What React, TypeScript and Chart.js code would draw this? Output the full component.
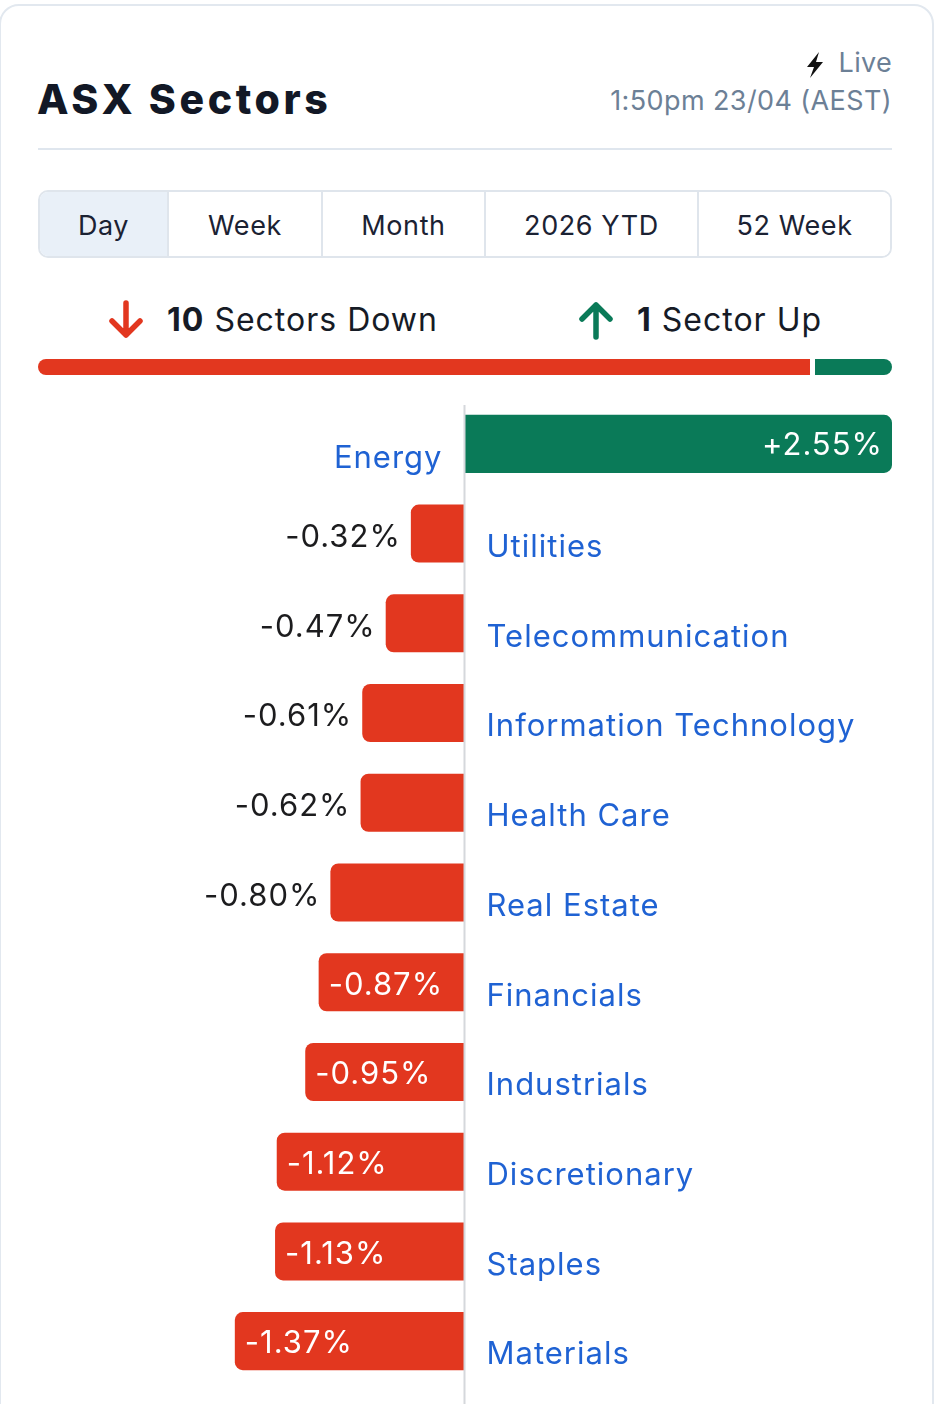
import React, { useEffect, useRef } from "react";
import { Chart, registerables } from "chart.js";

Chart.register(...registerables);

const categories: string[] = [
  "Energy",
  "Utilities",
  "Telecommunication",
  "Information Technology",
  "Health Care",
  "Real Estate",
  "Financials",
  "Industrials",
  "Discretionary",
  "Staples",
  "Materials",
];
const changes: number[] = [2.55, -0.32, -0.47, -0.61, -0.62, -0.8, -0.87, -0.95, -1.12, -1.13, -1.37];
const periodTabs: string[] = ["Day", "Week", "Month", "2026 YTD", "52 Week"];
const tabWidths: number[] = [129, 154, 163, 213, 195];

const RED = "#e2371f";
const GREEN = "#0a7a58";
const BLUE = "#1f62d3";
const FONT = "Inter, 'Noto Sans', sans-serif";

const fmt = (v: number) => (v > 0 ? "+" : "") + v.toFixed(2) + "%";

const labelPlugin = {
  id: "sectorLabels",
  afterDatasetsDraw(chart: any) {
    const ctx = chart.ctx as CanvasRenderingContext2D;
    const xs = chart.scales.x;
    const zero = xs.getPixelForValue(0);
    // zero axis line
    ctx.save();
    ctx.strokeStyle = "#d5d8dc";
    ctx.lineWidth = 2;
    ctx.beginPath();
    ctx.moveTo(zero, 6);
    ctx.lineTo(zero, chart.height);
    ctx.stroke();

    const meta = chart.getDatasetMeta(0);
    ctx.font = `31px ${FONT}`;
    (ctx as any).letterSpacing = "1px";
    meta.data.forEach((bar: any, i: number) => {
      const v = changes[i];
      const y = bar.y;
      const left = Math.min(bar.x, bar.base);
      const right = Math.max(bar.x, bar.base);
      const w = right - left;
      const txt = fmt(v);
      const tw = ctx.measureText(txt).width;
      const inside = w > tw + 26;
      ctx.textBaseline = "middle";
      if (v >= 0) {
        if (inside) {
          ctx.fillStyle = "#ffffff";
          ctx.textAlign = "right";
          ctx.fillText(txt, right - 9, y + 2);
        } else {
          ctx.fillStyle = "#1c1c1e";
          ctx.textAlign = "left";
          ctx.fillText(txt, right + 11, y + 4);
        }
        ctx.fillStyle = BLUE;
        ctx.textAlign = "right";
        ctx.fillText(categories[i], zero - 22, y + 15);
      } else {
        if (inside) {
          ctx.fillStyle = "#ffffff";
          ctx.textAlign = "left";
          ctx.fillText(txt, left + 10, y + 3);
        } else {
          ctx.fillStyle = "#1c1c1e";
          ctx.textAlign = "right";
          ctx.fillText(txt, left - 10, y + 4);
        }
        ctx.fillStyle = BLUE;
        ctx.textAlign = "left";
        ctx.fillText(categories[i], zero + 22, y + 14);
      }
    });
    ctx.restore();
  },
};

function SectorChart() {
  const ref = useRef<HTMLCanvasElement | null>(null);
  useEffect(() => {
    if (!ref.current) return;
    const maxAbs = Math.max(...changes.map((v) => Math.abs(v)));
    const chart = new Chart(ref.current, {
      type: "bar",
      data: {
        labels: categories,
        datasets: [
          {
            data: changes,
            backgroundColor: changes.map((v) => (v >= 0 ? GREEN : RED)),
            borderRadius: 8,
            borderSkipped: "start",
            barPercentage: 1,
            categoryPercentage: 0.647,
          },
        ],
      },
      options: {
        indexAxis: "y",
        animation: false,
        responsive: false,
        devicePixelRatio: 1,
        layout: { padding: { left: 37, right: 44, top: 0, bottom: 18 } },
        plugins: { legend: { display: false }, tooltip: { enabled: false } },
        scales: {
          x: { min: -maxAbs, max: maxAbs, display: false },
          y: { display: false },
        },
      },
      plugins: [labelPlugin],
    });
    return () => chart.destroy();
  }, []);
  return <canvas ref={ref} width={936} height={1005} style={{ position: "absolute", left: 0, top: 399, width: 936, height: 1005 }} />;
}

const Bolt = () => (
  <svg width="20" height="26" viewBox="0 0 20 26" style={{ display: "inline-block", verticalAlign: "middle", marginRight: 14 }}>
    <path d="M14 0 L2 15 L9 15 L5 26 L18 10 L11 10 Z" fill="#111" />
  </svg>
);

const Arrow = ({ up, color }: { up: boolean; color: string }) => (
  <svg width="40" height="40" viewBox="0 0 40 40" style={{ transform: up ? "rotate(180deg)" : undefined }}>
    <path d="M20 3 L20 35 M6 21 L20 35 L34 21" stroke={color} strokeWidth="5.5" fill="none" strokeLinecap="round" strokeLinejoin="round" />
  </svg>
);

export default function App() {
  const down = changes.filter((v) => v < 0).length;
  const up = changes.filter((v) => v >= 0).length;
  return (
    <div style={{ position: "absolute", left: 0, top: 0, width: 936, height: 1404, overflow: "hidden", background: "#fff", fontFamily: FONT }}>
      <div style={{ position: "absolute", left: -1, top: 4, width: 931, height: 1440, border: "2px solid #e2e8ef", borderRadius: 20, boxSizing: "content-box" }} />
      <div style={{ position: "absolute", left: 37, top: 76, fontSize: 41, fontWeight: 800, color: "#121826", lineHeight: "46px", letterSpacing: 3.6 }}>ASX Sectors</div>
      <div style={{ position: "absolute", right: 44, top: 46, fontSize: 27, color: "#6c8096", lineHeight: "34px", textAlign: "right", letterSpacing: 0.3 }}>
        <Bolt />Live
      </div>
      <div style={{ position: "absolute", right: 44, top: 84, fontSize: 27, color: "#6c8096", lineHeight: "34px", textAlign: "right", letterSpacing: 0.4 }}>1:50pm 23/04 (AEST)</div>
      <div style={{ position: "absolute", left: 38, top: 148, width: 854, height: 2, background: "#dfe6ee" }} />

      <div style={{ position: "absolute", left: 38, top: 190, width: 850, height: 64, border: "2px solid #dfe5ec", borderRadius: 10, display: "flex", overflow: "hidden" }}>
        {periodTabs.map((t, i) => (
          <div
            key={t}
            style={{
              width: tabWidths[i] - (i === 0 ? 2 : i === periodTabs.length - 1 ? 2 : 0),
              flexShrink: 0,
              display: "flex",
              alignItems: "center",
              justifyContent: "center",
              fontSize: 27,
              letterSpacing: 0.6,
              color: "#1b2233",
              background: i === 0 ? "#e9f0f8" : "#fff",
              borderLeft: i === 0 ? "none" : "2px solid #dfe5ec",
              boxSizing: "border-box",
              paddingTop: 2,
            }}
          >
            {t}
          </div>
        ))}
      </div>

      <div style={{ position: "absolute", left: 106, top: 300, display: "flex", alignItems: "center", fontSize: 32, color: "#161b26", lineHeight: "40px", letterSpacing: 1 }}>
        <Arrow up={false} color={RED} />
        <span style={{ marginLeft: 21 }}>
          <b>{down}</b> Sectors Down
        </span>
      </div>
      <div style={{ position: "absolute", left: 576, top: 300, display: "flex", alignItems: "center", fontSize: 32, color: "#161b26", lineHeight: "40px", letterSpacing: 1 }}>
        <Arrow up={true} color={GREEN} />
        <span style={{ marginLeft: 21 }}>
          <b>{up}</b> Sector Up
        </span>
      </div>

      <div style={{ position: "absolute", left: 38, top: 359, width: 854, height: 16, display: "flex", gap: 5 }}>
        <div style={{ flex: down, background: RED, borderRadius: "8px 0 0 8px" }} />
        <div style={{ flex: up, background: GREEN, borderRadius: "0 8px 8px 0" }} />
      </div>

      <SectorChart />
    </div>
  );
}
